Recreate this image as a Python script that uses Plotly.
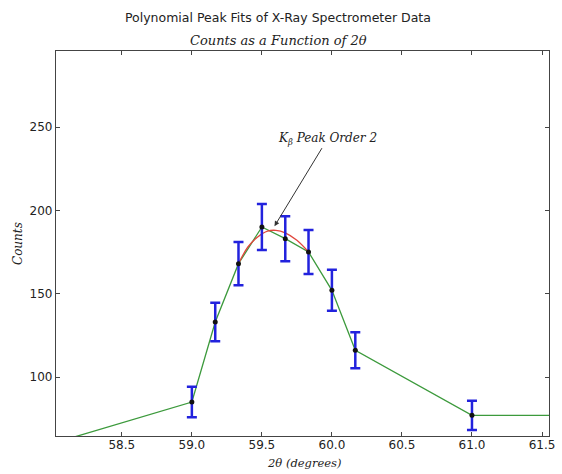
import plotly.graph_objects as go

# Spectrometer scan: diffraction angle 2θ (degrees) and measured counts
two_theta = [58.0, 59.0, 59.167, 59.333, 59.5, 59.667, 59.833, 60.0, 60.167, 61.0, 61.6]
counts = [60, 85, 133, 168, 190, 183, 175, 152, 116, 77, 77]

# Measured points that carry counting-error bars
err_theta = [59.0, 59.167, 59.333, 59.5, 59.667, 59.833, 60.0, 60.167, 61.0]
err_counts = [85, 133, 168, 190, 183, 175, 152, 116, 77]
err_sigma = [9.2, 11.5, 13.0, 13.8, 13.5, 13.2, 12.3, 10.8, 8.8]

# Second-order polynomial fit around the K-beta peak
fit_theta = [59.333, 59.40, 59.47, 59.54, 59.60, 59.667, 59.75, 59.833]
fit_counts = [168, 178, 184, 187.5, 188, 186.5, 182, 175]

x_ticks = [58.5, 59.0, 59.5, 60.0, 60.5, 61.0, 61.5]
y_ticks = [100, 150, 200, 250]

SANS = "DejaVu Sans"
SERIF = "DejaVu Serif"

fig = go.Figure()

fig.add_trace(go.Scatter(
    x=two_theta, y=counts, mode="lines",
    line=dict(color="#3c9a3c", width=1.3),
    hoverinfo="skip", showlegend=False,
))
fig.add_trace(go.Scatter(
    x=fit_theta, y=fit_counts, mode="lines",
    line=dict(color="#e0463c", width=1.3, shape="spline"),
    showlegend=False,
))
fig.add_trace(go.Scatter(
    x=err_theta, y=err_counts, mode="markers",
    marker=dict(color="#111111", size=5),
    error_y=dict(type="data", array=err_sigma, visible=True,
                 color="#2222dd", thickness=2.5, width=5),
    showlegend=False,
))

axis_common = dict(
    showgrid=False, zeroline=False,
    showline=True, linecolor="#444444", linewidth=1.2, mirror="allticks",
    ticks="inside", ticklen=4, tickcolor="#444444", tickwidth=1,
    tickfont=dict(family=SANS, size=12, color="#222222"),
)

fig.update_xaxes(range=[58.03, 61.55], tickvals=x_ticks,
                 ticktext=[f"{v:.1f}" for v in x_ticks],
                 ticklabelstandoff=-3, **axis_common)
fig.update_yaxes(range=[64.6, 295.6], tickvals=y_ticks,
                 ticktext=[str(v) for v in y_ticks], **axis_common)

annotations = [
    dict(text="Polynomial Peak Fits of X-Ray Spectrometer Data",
         xref="paper", yref="paper", x=0.451, y=1.088,
         xanchor="center", yanchor="middle", showarrow=False,
         font=dict(family=SANS, size=12.5, color="#222222")),
    dict(text="<i>Counts as a Function of 2θ</i>",
         xref="paper", yref="paper", x=0.451, y=1.026,
         xanchor="center", yanchor="middle", showarrow=False,
         font=dict(family=SERIF, size=13, color="#222222")),
    dict(text="<i>2θ (degrees)</i>",
         xref="paper", yref="paper", x=0.503, y=-0.070,
         xanchor="center", yanchor="middle", showarrow=False,
         font=dict(family=SERIF, size=11.5, color="#222222")),
    dict(text="<i>Counts</i>",
         xref="paper", yref="paper", x=-0.078, y=0.5, textangle=-90,
         xanchor="center", yanchor="middle", showarrow=False,
         font=dict(family=SERIF, size=12, color="#222222")),
    dict(text="<i>K<sub>β</sub> Peak Order 2</i>",
         x=59.59, y=190.5, xref="x", yref="y",
         ax=59.97, ay=243, axref="x", ayref="y",
         showarrow=True, arrowhead=2, arrowsize=1, arrowwidth=1,
         arrowcolor="#333333", standoff=0,
         font=dict(family=SERIF, size=12, color="#222222")),
]

fig.update_layout(
    width=562, height=474,
    margin=dict(l=56, r=7, t=51, b=38),
    paper_bgcolor="white", plot_bgcolor="white",
    annotations=annotations,
)

fig.write_html("out.html")
